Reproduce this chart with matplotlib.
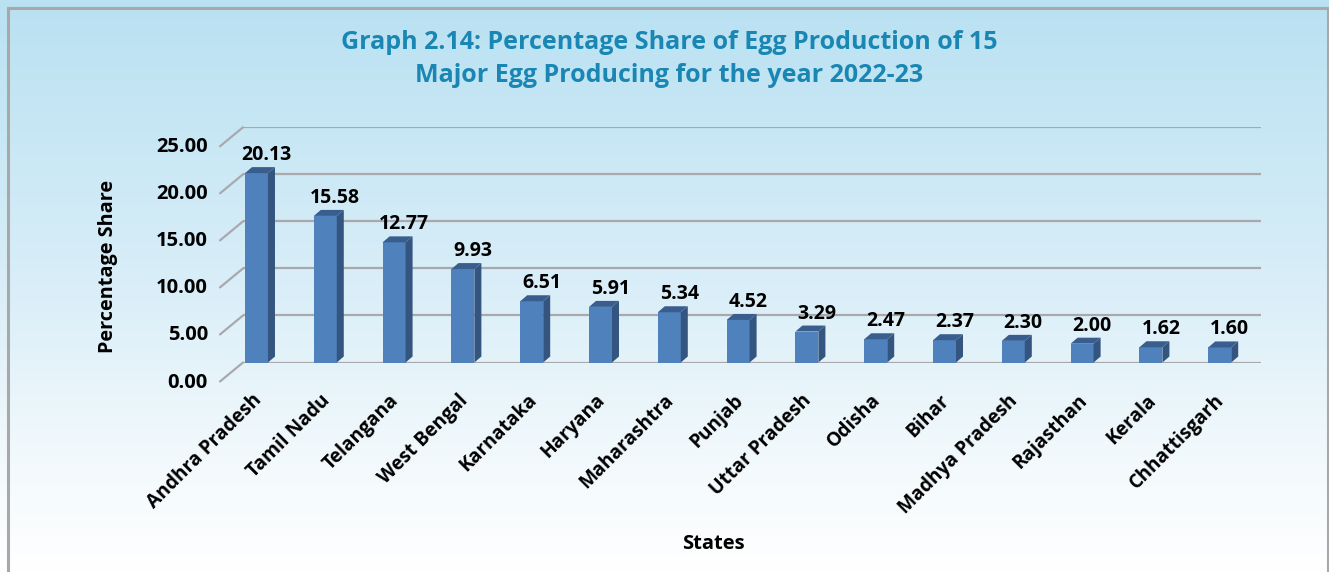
import numpy as np
import matplotlib
matplotlib.use("Agg")
import matplotlib.pyplot as plt
from matplotlib.patches import Polygon, Rectangle
from matplotlib.colors import LinearSegmentedColormap
from matplotlib import font_manager

# ----- data
states = ["Andhra Pradesh", "Tamil Nadu", "Telangana", "West Bengal", "Karnataka",
          "Haryana", "Maharashtra", "Punjab", "Uttar Pradesh", "Odisha", "Bihar",
          "Madhya Pradesh", "Rajasthan", "Kerala", "Chhattisgarh"]
share = [20.13, 15.58, 12.77, 9.93, 6.51, 5.91, 5.34, 4.52, 3.29, 2.47, 2.37,
         2.30, 2.00, 1.62, 1.60]
yticks = [0, 5, 10, 15, 20, 25]

title = ("Graph 2.14: Percentage Share of Egg Production of 15\n"
         "Major Egg Producing for the year 2022-23")

installed = {f.name for f in font_manager.fontManager.ttflist}
body_font = "Open Sans"
title_font = "Liberation Sans Narrow" if "Liberation Sans Narrow" in installed else "Open Sans"
plt.rcParams["font.family"] = [body_font, "DejaVu Sans"]

W, H = 1329, 572
fig = plt.figure(figsize=(W / 100, H / 100), dpi=100)

# ----- background gradient + frame
bg = fig.add_axes([0, 0, 1, 1], zorder=-10)
bg_cmap = LinearSegmentedColormap.from_list(
    "bg", [(0.0, "#b9e1f2"), (0.5, "#d9eef8"), (0.8, "#f2f9fc"), (1.0, "#ffffff")])
bg.imshow(np.linspace(0, 1, 256)[:, None], aspect="auto", cmap=bg_cmap,
          extent=[0, 1, 0, 1])
bg.axis("off")
fig.add_artist(Rectangle((8 / W, -0.05), 1320 / W, 1.05 - 8 / H,
                         transform=fig.transFigure, fill=False,
                         edgecolor="#a8a8a8", linewidth=2.2))

# ----- main axes (back wall)
ax = fig.add_axes([243 / W, 1 - 362.5 / H, 1018 / W, 235.2 / H])
ax.set_xlim(-0.196, 14.6)
ax.set_ylim(0, 25)
ax.patch.set_visible(False)
for s in ax.spines.values():
    s.set_visible(False)
ax.set_xticks([])
ax.set_yticks([])

grid_c = "#a9a9ad"
for v in yticks:
    ax.axhline(v, color=grid_c, linewidth=1.6, zorder=1)
    ax.annotate("", xy=(ax.get_xlim()[0], v), xytext=(-23, -19),
                textcoords="offset pixels",
                arrowprops=dict(arrowstyle="-", color=grid_c, lw=1.6,
                                shrinkA=0, shrinkB=0))
    ax.annotate(f"{v:.2f}", xy=(ax.get_xlim()[0], v), xytext=(-35, -20),
                textcoords="offset pixels", ha="right", va="center",
                fontsize=14.5, fontweight="bold", color="black")

# 3D-ish bars
bbox = ax.get_window_extent()
px_x = bbox.width / (ax.get_xlim()[1] - ax.get_xlim()[0])
px_y = bbox.height / (ax.get_ylim()[1] - ax.get_ylim()[0])
dx, dy = 7 / px_x, 6 / px_y
bw = 0.334
x = np.arange(len(states))
ax.bar(x, share, width=bw, color="#4f81bd", zorder=3)
for xi, v in zip(x, share):
    r = xi + bw / 2
    ax.add_patch(Polygon([(r, 0), (r, v), (r + dx, v + dy), (r + dx, dy)],
                         closed=True, facecolor="#33557f", edgecolor="none", zorder=3))
    ax.add_patch(Polygon([(xi - bw / 2, v), (r, v), (r + dx, v + dy),
                          (xi - bw / 2 + dx, v + dy)],
                         closed=True, facecolor="#395e8e", edgecolor="none", zorder=3))
    ax.annotate(f"{v:.2f}", xy=(xi, v), xytext=(10, 8), textcoords="offset pixels",
                ha="center", va="bottom", fontsize=14, fontweight="bold")
    ax.annotate(states[xi], xy=(xi, 0), xytext=(9, -28), textcoords="offset pixels",
                ha="right", va="top", rotation=45, fontsize=13.8, fontweight="bold",
                annotation_clip=False)

# ----- texts
fig.text(108 / W, 1 - 266 / H, "Percentage Share", rotation=90, ha="center",
         va="center", fontsize=14.3, fontweight="bold")
fig.text(713 / W, 1 - 544 / H, "States", ha="center", va="center",
         fontsize=14.5, fontweight="bold")
fig.text(669 / W, 1 - 59 / H, title, ha="center", va="center", color="#1a86b3",
         fontsize=18, fontweight="bold", family=[title_font, "DejaVu Sans"],
         linespacing=1.38)

fig.savefig("out.png", dpi=100)
